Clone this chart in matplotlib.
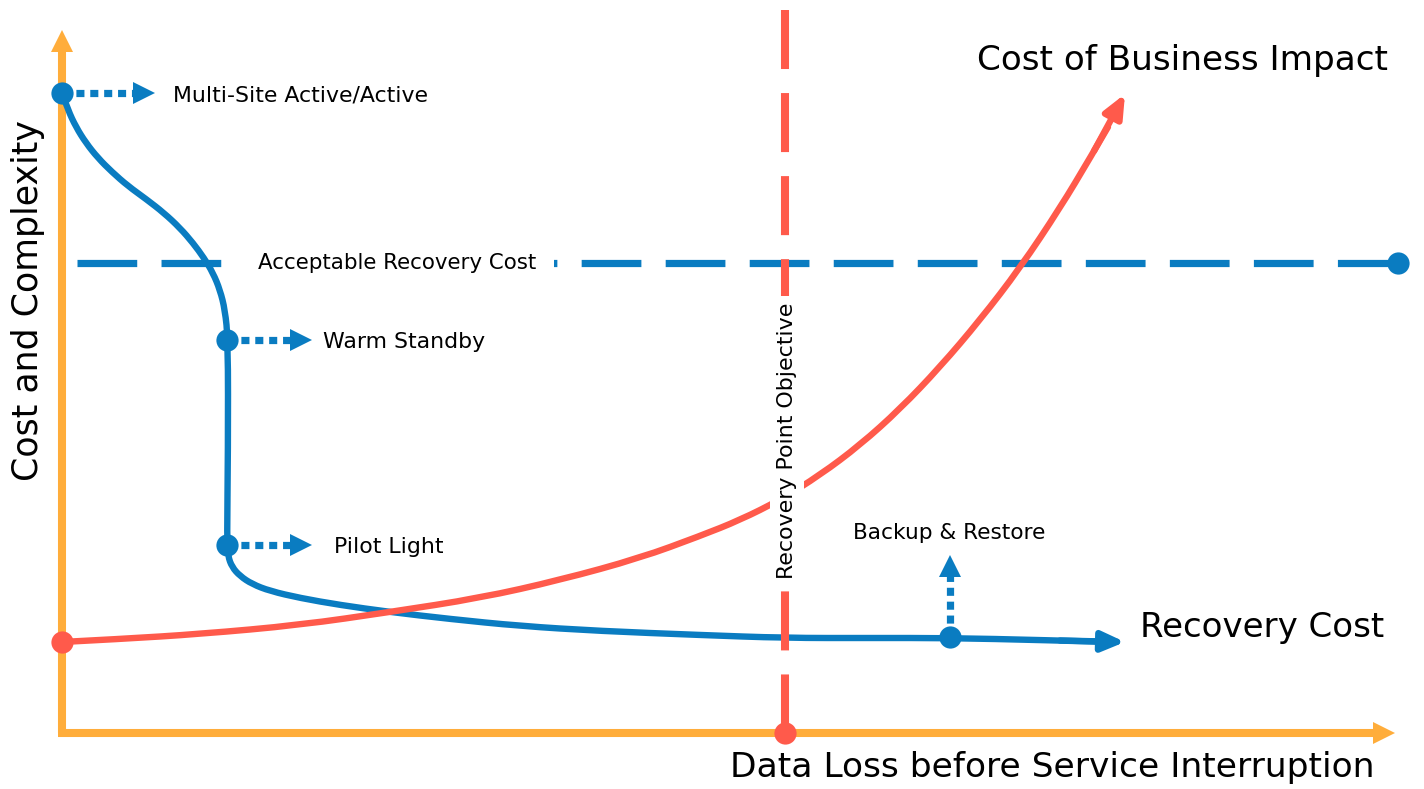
import matplotlib
matplotlib.use("Agg")
import matplotlib.pyplot as plt
from matplotlib.path import Path
from matplotlib.patches import PathPatch

plt.rcParams['font.family'] = ['DejaVu Sans']
plt.rcParams['lines.scale_dashes'] = False

# colours
BLUE = '#0A7CC1'
RED = '#FF5A4B'
ORANGE = '#FFAD3B'

# chart space: pixel-like units, y grows downwards
# recovery cost curve (blue)
cost_x = [62, 68, 76, 86, 98, 112, 128, 146, 164, 180, 193, 204, 213, 220, 225, 228, 228, 227,
          228, 232, 240, 252, 270, 300, 340, 390, 450, 520, 600, 700, 785, 870, 950, 1040, 1112]
cost_y = [93, 110, 127, 143, 158, 172, 186, 199, 213, 228, 243, 258, 273, 290, 310, 340, 450, 540,
          556, 567, 576, 584, 591, 598, 605, 612, 619, 626, 631, 635, 638, 638, 638, 640, 642]

# business impact curve (red)
impact_x = [62, 120, 200, 300, 390, 480, 560, 640, 700, 740, 780, 820, 860, 900, 940, 980,
            1020, 1060, 1090, 1108]
impact_y = [642, 639, 634, 625, 612, 598, 580, 558, 536, 520, 500, 475, 445, 409, 367, 320,
            268, 208, 158, 127]

# DR strategies: (label, dot x, dot y)
strategies = ['Multi-Site Active/Active', 'Warm Standby', 'Pilot Light']
strat_x = [62, 227, 227]
strat_y = [93, 340, 545]
strat_head_x = [144, 301, 301]
strat_text_x = [173, 323, 334]

backup_x, backup_y = 950, 637

acceptable_cost_y = 263
rpo_x = 785


def smooth_curve(xs, ys, **kw):
    # quadratic b-spline through the read points, drawn by matplotlib's path
    pts = list(zip(xs, ys))
    verts = [pts[0]]
    codes = [Path.MOVETO]
    for i in range(1, len(pts) - 1):
        mid = ((pts[i][0] + pts[i + 1][0]) / 2, (pts[i][1] + pts[i + 1][1]) / 2)
        if i == len(pts) - 2:
            mid = pts[-1]
        verts += [pts[i], mid]
        codes += [Path.CURVE3, Path.CURVE3]
    return PathPatch(Path(verts, codes), fill=False, **kw)


fig = plt.figure(figsize=(14.24, 7.89), dpi=100)
ax = fig.add_axes([0, 0, 1, 1])
ax.set_xlim(0, 1424)
ax.set_ylim(789, 0)
ax.axis('off')

# axes (orange)
ax.plot([62, 62], [733, 48], color=ORANGE, lw=5.8, solid_capstyle='butt', zorder=1)
ax.plot([58, 1380], [733, 733], color=ORANGE, lw=5.8, solid_capstyle='butt', zorder=1)
ax.plot(62, 41, marker='^', ms=16, color=ORANGE, mew=0, zorder=1)
ax.plot(1384, 733, marker='>', ms=16, color=ORANGE, mew=0, zorder=1)

# acceptable recovery cost (dashed blue)
ax.plot([77, 1398], [acceptable_cost_y, acceptable_cost_y], color=BLUE, lw=5.2,
        dashes=(43, 17.5), dash_capstyle='butt', zorder=2)
ax.plot(1398, acceptable_cost_y, 'o', ms=16, color=BLUE, mew=0, zorder=2)
ax.text(397, acceptable_cost_y, 'Acceptable Recovery Cost', fontsize=15.4, ha='center', va='center',
        bbox=dict(facecolor='white', edgecolor='none', pad=13), zorder=6)

# recovery cost curve
ax.add_patch(smooth_curve(cost_x, cost_y, edgecolor=BLUE, lw=4.6, capstyle='round',
                          joinstyle='round', zorder=3))
ax.annotate('', xy=(1125, 642), xytext=(1060, 640.5),
            arrowprops=dict(arrowstyle='-|>,head_length=0.8,head_width=0.35', color=BLUE, lw=4.6,
                            mutation_scale=17, shrinkA=0, shrinkB=0), zorder=3)

# strategy markers with dotted arrows
for label, x, y, hx, tx in zip(strategies, strat_x, strat_y, strat_head_x, strat_text_x):
    ax.plot([x, hx - 10], [y, y], color=BLUE, lw=5.2, dashes=(5.8, 4.2), dash_capstyle='butt', zorder=3)
    ax.plot(hx, y, marker='>', ms=16, color=BLUE, mew=0, zorder=3)
    ax.plot(x, y, 'o', ms=16, color=BLUE, mew=0, zorder=4)
    ax.text(tx, y + 2, label, fontsize=15.8, ha='left', va='center', zorder=6)

ax.plot([backup_x, backup_x], [backup_y, 576], color=BLUE, lw=5.2, dashes=(5.8, 4.2),
        dash_capstyle='butt', zorder=3)
ax.plot(backup_x, 566, marker='^', ms=16, color=BLUE, mew=0, zorder=3)
ax.plot(backup_x, backup_y, 'o', ms=16, color=BLUE, mew=0, zorder=4)
ax.text(949, 533, 'Backup & Restore', fontsize=15.6, ha='center', va='center', zorder=6)

# business impact curve
ax.add_patch(smooth_curve(impact_x, impact_y, edgecolor=RED, lw=4.6, capstyle='round',
                          joinstyle='round', zorder=4))
ax.annotate('', xy=(1125, 94), xytext=(1094, 151),
            arrowprops=dict(arrowstyle='-|>,head_length=0.8,head_width=0.35', color=RED, lw=4.6,
                            mutation_scale=17, shrinkA=0, shrinkB=0), zorder=4)
ax.plot(62, 642, 'o', ms=16, color=RED, mew=0, zorder=5)

# recovery point objective
ax.plot([rpo_x, rpo_x], [10, 733], color=RED, lw=5.8, dashes=(42.5, 17.3), dash_capstyle='butt', zorder=5)
ax.plot(rpo_x, 733, 'o', ms=16, color=RED, mew=0, zorder=5)
ax.text(787, 441, 'Recovery Point Objective', fontsize=15.9, rotation=90, ha='center', va='center',
        bbox=dict(facecolor='white', edgecolor='none', pad=5), zorder=6)

# big labels
ax.text(977, 60, 'Cost of Business Impact', fontsize=24.7, ha='left', va='center')
ax.text(1140, 628, 'Recovery Cost', fontsize=24.5, ha='left', va='center')
ax.text(730, 767, 'Data Loss before Service Interruption', fontsize=24.8, ha='left', va='center')
ax.text(28, 300, 'Cost and Complexity', fontsize=25, rotation=90, ha='center', va='center')

fig.savefig('out.png', dpi=100)
